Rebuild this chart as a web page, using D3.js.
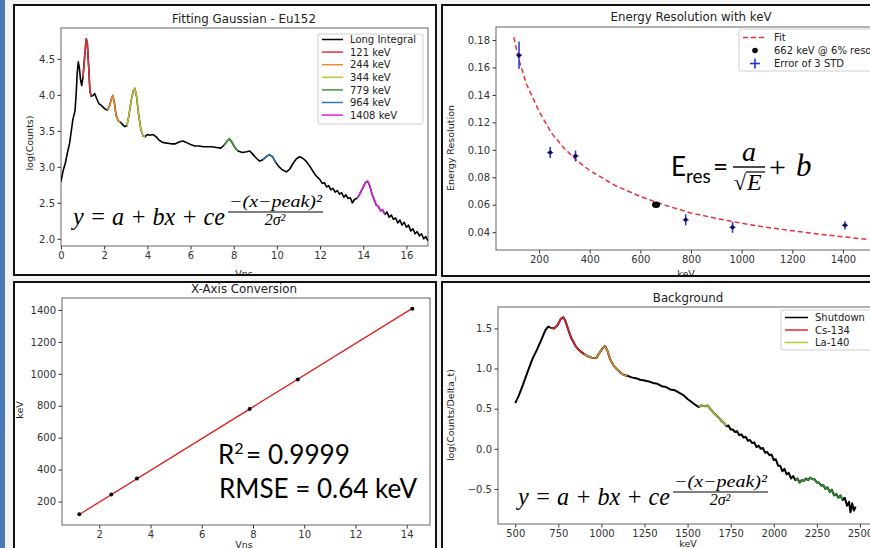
<!DOCTYPE html>
<html lang="en">
<head>
<meta charset="utf-8">
<style>
body { margin: 0; background: #f4f4f4; }
text { font-family: "DejaVu Sans", sans-serif; }
.axis text { font-size: 10px; fill: #333; font-family: "DejaVu Sans", sans-serif; }
.axis line { stroke: #333; }
.lbl { font-size: 9.5px; fill: #222; }
.ttl { font-size: 11.8px; fill: #222; }
.leg { font-size: 10px; fill: #222; }
.math { font-family: "Liberation Serif", "DejaVu Serif", serif; font-style: italic; fill: #000; }
.cal { font-family: Lato, "Open Sans", sans-serif; fill: #000; }
</style>
<title>Detector calibration</title>
<script src="https://cdn.jsdelivr.net/npm/d3@7"></script>
</head>
<body>
<script>

// ---- Fitting Gaussian - Eu152 : [Vns, log(counts)]
var eu152 = [[0,2.80],[0.1,2.95],[0.2,3.05],[0.3,3.20],[0.4,3.33],[0.5,3.55],[0.55,3.66],[0.6,3.72],[0.65,3.78],[0.7,4.00],
  [0.75,4.30],[0.8,4.46],[0.85,4.38],[0.9,4.22],[0.96,4.13],[1.02,4.25],[1.1,4.55],[1.17,4.78],[1.22,4.72],[1.28,4.40],
  [1.34,4.05],[1.4,3.98],[1.48,3.99],[1.56,4.02],[1.65,3.95],[1.75,3.88],[1.85,3.86],[1.95,3.83],[2.05,3.80],[2.15,3.79],
  [2.25,3.85],[2.35,3.96],[2.4,3.99],[2.47,3.90],[2.55,3.72],[2.65,3.64],[2.75,3.62],[2.85,3.59],[2.95,3.56],[3.05,3.57],
  [3.15,3.72],[3.25,3.92],[3.35,4.06],[3.42,4.09],[3.5,3.98],[3.6,3.72],[3.7,3.52],[3.8,3.43],[3.9,3.42],[4.0,3.45],
  [4.1,3.44],[4.25,3.45],[4.4,3.42],[4.55,3.37],[4.7,3.34],[4.9,3.33],[5.1,3.32],[5.3,3.32],[5.5,3.35],[5.65,3.36],
  [5.8,3.34],[6.0,3.31],[6.2,3.29],[6.4,3.29],[6.6,3.28],[6.8,3.28],[7.0,3.28],[7.2,3.27],[7.4,3.26],[7.55,3.30],
  [7.7,3.36],[7.8,3.39],[7.9,3.35],[8.05,3.27],[8.2,3.22],[8.4,3.20],[8.6,3.21],[8.75,3.22],[8.9,3.17],[9.05,3.12],
  [9.2,3.08],[9.35,3.10],[9.5,3.14],[9.65,3.17],[9.8,3.14],[9.95,3.06],[10.1,3.00],[10.25,2.96],[10.45,2.93],[10.6,2.97],
  [10.75,3.05],[10.9,3.11],[11.05,3.14],[11.2,3.12],[11.35,3.08],[11.5,3.02],[11.65,2.95],[11.8,2.88],[11.9,2.85],[12.0,2.82],
  [12.1,2.77],[12.2,2.78],[12.3,2.72],[12.4,2.74],[12.5,2.68],[12.6,2.70],[12.7,2.65],[12.8,2.67],[12.9,2.62],[13.0,2.64],
  [13.1,2.58],[13.2,2.61],[13.3,2.56],[13.4,2.57],[13.5,2.50],[13.6,2.55],[13.7,2.56],[13.8,2.60],[13.9,2.66],[14.0,2.72],
  [14.1,2.78],[14.2,2.80],[14.3,2.74],[14.4,2.63],[14.5,2.55],[14.6,2.47],[14.7,2.45],[14.8,2.39],[14.9,2.40],[15.0,2.34],
  [15.1,2.37],[15.2,2.30],[15.3,2.33],[15.4,2.27],[15.5,2.29],[15.6,2.22],[15.7,2.26],[15.8,2.19],[15.9,2.23],[16.0,2.16],
  [16.1,2.19],[16.2,2.11],[16.3,2.14],[16.4,2.07],[16.5,2.10],[16.6,2.04],[16.7,2.07],[16.8,2.00],[16.9,2.03],[17.0,1.97]];
var peakNames = ["121 keV", "244 keV", "344 keV", "779 keV", "964 keV", "1408 keV"];
var peakFrom = [1.0, 2.1, 3.0, 7.45, 9.3, 13.65];
var peakTo = [1.4, 2.75, 3.9, 8.2, 10.0, 15.0];
var peakColors = ["#e0303a", "#f08a2a", "#c2c232", "#3a9a3a", "#2b7bb9", "#e020e0"];

// ---- Energy resolution with keV
var resEnergy = [121, 244, 344, 779, 964, 1408];
var resValue = [0.169, 0.098, 0.0955, 0.049, 0.0435, 0.045];
var resError = [0.010, 0.004, 0.004, 0.004, 0.004, 0.003];
var csEnergy = [662], csRes = [0.060];
var fitEnergy = [100, 120, 150, 200, 250, 300, 350, 400, 500, 600, 700, 800, 900, 1000, 1100, 1200, 1300, 1400, 1500];
var fitRes = [0.182, 0.166, 0.148, 0.128, 0.112, 0.101, 0.092, 0.085, 0.074, 0.066, 0.0595, 0.054, 0.050, 0.0465, 0.0435, 0.041, 0.0387, 0.0366, 0.0347];

// ---- X-axis conversion
var convVns = [1.22, 2.47, 3.47, 7.87, 9.75, 14.22];
var convKeV = [121, 244, 344, 779, 964, 1408];
var convFitVns = [1.22, 14.22];
var convFitKeV = [119, 1410];

// ---- Background : [keV, log(counts/delta_t)]
var background = [[500,0.57],[520,0.66],[545,0.80],[570,0.95],[600,1.12],[625,1.23],[650,1.35],[675,1.48],[690,1.52],[705,1.51],
  [725,1.50],[745,1.54],[765,1.62],[778,1.64],[790,1.60],[805,1.50],[825,1.38],[850,1.28],[875,1.22],[900,1.18],
  [925,1.15],[950,1.13],[970,1.13],[990,1.20],[1010,1.26],[1022,1.28],[1035,1.22],[1050,1.12],[1070,1.04],[1090,0.99],
  [1110,0.95],[1130,0.92],[1150,0.91],[1175,0.89],[1200,0.88],[1225,0.86],[1250,0.85],[1275,0.84],[1300,0.82],[1325,0.81],
  [1350,0.78],[1375,0.77],[1400,0.74],[1425,0.73],[1450,0.70],[1475,0.67],[1500,0.62],[1525,0.58],[1550,0.54],[1565,0.52],
  [1580,0.54],[1600,0.53],[1615,0.54],[1630,0.50],[1650,0.45],[1675,0.40],[1700,0.34],[1712,0.32],[1725,0.28],[1737,0.29],
  [1750,0.24],[1762,0.24],[1775,0.21],[1787,0.22],[1800,0.17],[1812,0.18],[1825,0.14],[1837,0.15],[1850,0.10],[1862,0.11],
  [1875,0.07],[1887,0.08],[1900,0.02],[1912,0.04],[1925,0.00],[1937,0.01],[1950,-0.05],[1962,-0.04],[1975,-0.08],[1987,-0.07],
  [2000,-0.14],[2012,-0.13],[2025,-0.21],[2037,-0.21],[2050,-0.28],[2062,-0.25],[2075,-0.32],[2087,-0.30],[2100,-0.37],[2112,-0.34],
  [2125,-0.39],[2137,-0.37],[2150,-0.42],[2162,-0.39],[2175,-0.40],[2187,-0.37],[2200,-0.39],[2212,-0.36],[2225,-0.38],[2237,-0.38],
  [2250,-0.42],[2262,-0.42],[2275,-0.46],[2287,-0.45],[2300,-0.50],[2312,-0.48],[2325,-0.54],[2337,-0.51],[2350,-0.58],[2362,-0.56],
  [2375,-0.61],[2387,-0.58],[2400,-0.64],[2412,-0.61],[2425,-0.71],[2437,-0.66],[2445,-0.79],[2455,-0.68],[2465,-0.77],[2475,-0.72]];
var bkgFrom = [700, 900, 1560, 2125];
var bkgTo = [900, 1150, 1725, 2410];
var bkgColors = ["#e8202a", "#dc8a30", "#b8c030", "#2e8b2e"];
var bkgNames = ["Shutdown", "Cs-134", "La-140"];
var bkgLegendColors = ["#000", "#e8202a", "#c2c232"];

var W = 870, H = 548;
var svg = d3.select("body").append("svg").attr("width", W).attr("height", H).style("display", "block");
svg.append("rect").attr("width", W).attr("height", H).attr("fill", "#f4f4f4");
svg.append("rect").attr("width", 5).attr("height", H).attr("fill", "#4a7ab8");
var defs = svg.append("defs");

var clipN = 0;
function clip(x, y, w, h) {
	var id = "clip" + (clipN++);
	defs.append("clipPath").attr("id", id).append("rect")
		.attr("x", x).attr("y", y).attr("width", w).attr("height", h);
	return "url(#" + id + ")";
}

var frames = [];
function panel(x0, y0, x1, y1) {
	svg.append("rect").attr("x", x0).attr("y", y0).attr("width", x1 - x0).attr("height", y1 - y0).attr("fill", "#fff");
	frames.push([x0, y0, x1, y1]);
	return svg.append("g").attr("clip-path", clip(x0, y0, x1 - x0, y1 - y0));
}

function axes(g, box, xd, yd, xt, yt, xf, yf) {
	var x = d3.scaleLinear().domain(xd).range([box[0], box[2]]);
	var y = d3.scaleLinear().domain(yd).range([box[3], box[1]]);
	g.append("g").attr("class", "axis").attr("transform", "translate(0," + box[3] + ")")
		.call(d3.axisBottom(x).tickValues(xt).tickFormat(xf).tickSize(3.5).tickPadding(2.5));
	g.append("g").attr("class", "axis").attr("transform", "translate(" + box[0] + ",0)")
		.call(d3.axisLeft(y).tickValues(yt).tickFormat(yf).tickSize(3.5).tickPadding(2.5));
	g.selectAll(".axis .domain").remove();
	g.append("rect").attr("x", box[0]).attr("y", box[1])
		.attr("width", box[2] - box[0]).attr("height", box[3] - box[1])
		.attr("fill", "none").attr("stroke", "#555").attr("stroke-width", 0.9);
	var plot = g.append("g").attr("clip-path", clip(box[0], box[1], box[2] - box[0], box[3] - box[1]));
	return { x: x, y: y, plot: plot };
}

function labels(g, title, tx, ty, xlab, xx, xy, ylab, yx, yy) {
	g.append("text").attr("class", "ttl").attr("x", tx).attr("y", ty).attr("text-anchor", "middle").text(title);
	g.append("text").attr("class", "lbl").attr("x", xx).attr("y", xy).attr("text-anchor", "middle").text(xlab);
	g.append("text").attr("class", "lbl").attr("text-anchor", "middle")
		.attr("transform", "translate(" + yx + "," + yy + ") rotate(-90)").text(ylab);
}

function legendBox(g, x, y, w, h) {
	g.append("rect").attr("x", x).attr("y", y).attr("width", w).attr("height", h).attr("rx", 2)
		.attr("fill", "#fff").attr("fill-opacity", 0.85).attr("stroke", "#cfcfcf").attr("stroke-width", 1);
}

function gaussEq(g, x0, base) {
	g.append("text").attr("class", "math").attr("x", x0).attr("y", base)
		.attr("font-size", 26).attr("textLength", 152).attr("lengthAdjust", "spacingAndGlyphs")
		.text("y = a + bx + ce");
	g.append("text").attr("class", "math").attr("x", x0 + 156).attr("y", base - 18)
		.attr("font-size", 17).attr("textLength", 93).attr("lengthAdjust", "spacingAndGlyphs")
		.text("\u2212(x\u2212peak)\u00b2");
	g.append("line").attr("x1", x0 + 155).attr("x2", x0 + 250).attr("y1", base - 13).attr("y2", base - 13)
		.attr("stroke", "#000").attr("stroke-width", 1.2);
	g.append("text").attr("class", "math").attr("x", x0 + 202).attr("y", base)
		.attr("text-anchor", "middle").attr("font-size", 16).text("2\u03c3\u00b2");
}

var line = d3.line();

// ================= top left =================
var g1 = panel(14, 5, 436, 275);
var a1 = axes(g1, [61, 28, 428, 246], [0, 17], [1.90, 4.93],
	d3.range(0, 17, 2), [2.0, 2.5, 3.0, 3.5, 4.0, 4.5], d3.format("d"), d3.format(".1f"));
labels(g1, "Fitting Gaussian - Eu152", 244, 23, "Vns", 244, 277, "log(Counts)", 33, 143);
a1.plot.append("path")
	.attr("d", line(eu152.map(function(d) { return [a1.x(d[0]), a1.y(d[1])]; })))
	.attr("fill", "none").attr("stroke", "#000").attr("stroke-width", 1.6).attr("stroke-linejoin", "round");
peakNames.forEach(function(n, i) {
	var seg = eu152.filter(function(d) { return d[0] >= peakFrom[i] && d[0] <= peakTo[i]; });
	a1.plot.append("path")
		.attr("d", line(seg.map(function(d) { return [a1.x(d[0]), a1.y(d[1])]; })))
		.attr("fill", "none").attr("stroke", peakColors[i]).attr("stroke-width", 1.5);
});
legendBox(g1, 318, 34, 105, 90);
["Long Integral"].concat(peakNames).forEach(function(n, i) {
	var yy = 39.5 + i * 12.6;
	g1.append("line").attr("x1", 322).attr("x2", 343).attr("y1", yy).attr("y2", yy)
		.attr("stroke", i == 0 ? "#000" : peakColors[i - 1]).attr("stroke-width", 1.5);
	g1.append("text").attr("class", "leg").attr("x", 350).attr("y", yy + 3.6).text(n);
});
gaussEq(g1, 73, 225);

// ================= top right =================
var g2 = panel(442, 5, 880, 276);
var a2 = axes(g2, [496, 27, 886, 250], [30, 1570], [0.027, 0.1895],
	d3.range(200, 1401, 200), [0.04, 0.06, 0.08, 0.10, 0.12, 0.14, 0.16, 0.18], d3.format("d"), d3.format(".2f"));
labels(g2, "Energy Resolution with keV", 691, 21, "keV", 686, 277, "Energy Resolution", 454, 148);
a2.plot.append("path")
	.attr("d", line(fitEnergy.map(function(e, i) { return [a2.x(e), a2.y(fitRes[i])]; })))
	.attr("fill", "none").attr("stroke", "#e8303a").attr("stroke-width", 1.5).attr("stroke-dasharray", "5,3");
resEnergy.forEach(function(e, i) {
	var cx = a2.x(e);
	a2.plot.append("line").attr("x1", cx).attr("x2", cx)
		.attr("y1", a2.y(resValue[i] - resError[i])).attr("y2", a2.y(resValue[i] + resError[i]))
		.attr("stroke", "#2233dd").attr("stroke-width", 1.5);
	a2.plot.append("line").attr("x1", cx - 3).attr("x2", cx + 3)
		.attr("y1", a2.y(resValue[i])).attr("y2", a2.y(resValue[i]))
		.attr("stroke", "#2233dd").attr("stroke-width", 1.2);
	a2.plot.append("circle").attr("cx", cx).attr("cy", a2.y(resValue[i])).attr("r", 2)
		.attr("fill", "#101040");
});
csEnergy.forEach(function(e, i) {
	a2.plot.append("ellipse").attr("cx", a2.x(e)).attr("cy", a2.y(csRes[i])).attr("rx", 4).attr("ry", 3.2).attr("fill", "#000");
});
legendBox(g2, 739, 29, 160, 42);
g2.append("line").attr("x1", 743).attr("x2", 766).attr("y1", 37.5).attr("y2", 37.5)
	.attr("stroke", "#e8303a").attr("stroke-width", 1.5).attr("stroke-dasharray", "5,3");
g2.append("text").attr("class", "leg").attr("x", 774).attr("y", 41).text("Fit");
g2.append("circle").attr("cx", 755).attr("cy", 50.5).attr("r", 2.8).attr("fill", "#000");
g2.append("text").attr("class", "leg").attr("x", 774).attr("y", 54).text("662 keV @ 6% resolution");
g2.append("line").attr("x1", 750).attr("x2", 760).attr("y1", 63.5).attr("y2", 63.5).attr("stroke", "#2233dd").attr("stroke-width", 1.6);
g2.append("line").attr("x1", 755).attr("x2", 755).attr("y1", 58.5).attr("y2", 68.5).attr("stroke", "#2233dd").attr("stroke-width", 1.6);
g2.append("text").attr("class", "leg").attr("x", 774).attr("y", 67).text("Error of 3 STD");
// E_res = a / sqrt(E) + b
g2.append("text").attr("class", "cal").attr("x", 671).attr("y", 176).attr("font-size", 26)
	.text("E").append("tspan").attr("font-size", 19).attr("dy", 7).text("res");
g2.append("text").attr("class", "cal").attr("x", 713).attr("y", 176).attr("font-size", 26).text("=");
g2.append("text").attr("class", "math").attr("x", 749).attr("y", 161).attr("text-anchor", "middle").attr("font-size", 28).text("a");
g2.append("line").attr("x1", 733).attr("x2", 765).attr("y1", 167).attr("y2", 167).attr("stroke", "#000").attr("stroke-width", 1.4);
g2.append("text").attr("class", "math").attr("x", 734).attr("y", 190).attr("font-size", 22).style("font-style", "normal").text("\u221a");
g2.append("line").attr("x1", 746).attr("x2", 765).attr("y1", 172).attr("y2", 172).attr("stroke", "#000").attr("stroke-width", 1.2);
g2.append("text").attr("class", "math").attr("x", 747).attr("y", 190).attr("font-size", 24).text("E");
g2.append("text").attr("class", "math").attr("x", 769).attr("y", 177).attr("font-size", 30).style("font-style", "normal").text("+");
g2.append("text").attr("class", "math").attr("x", 796).attr("y", 176).attr("font-size", 31).text("b");

// ================= bottom left =================
var g3 = panel(14, 282, 436, 560);
var a3 = axes(g3, [62, 298, 430, 525], [0.545, 14.91], [53, 1475],
	d3.range(2, 15, 2), d3.range(200, 1401, 200), d3.format("d"), d3.format("d"));
labels(g3, "X-Axis Conversion", 244, 293, "Vns", 244, 548, "keV", 23, 410);
a3.plot.append("path")
	.attr("d", line(convFitVns.map(function(v, i) { return [a3.x(v), a3.y(convFitKeV[i])]; })))
	.attr("fill", "none").attr("stroke", "#e02020").attr("stroke-width", 1.3);
convVns.forEach(function(v, i) {
	a3.plot.append("circle").attr("cx", a3.x(v)).attr("cy", a3.y(convKeV[i])).attr("r", 2).attr("fill", "#000");
});
g3.append("text").attr("class", "cal").attr("x", 218).attr("y", 464).attr("font-size", 26)
	.text("R").append("tspan").attr("font-size", 16).attr("dy", -10).text("2");
g3.append("text").attr("class", "cal").attr("x", 246).attr("y", 464).attr("font-size", 26)
	.attr("textLength", 104).attr("lengthAdjust", "spacingAndGlyphs").text("= 0.9999");
g3.append("text").attr("class", "cal").attr("x", 219).attr("y", 498).attr("font-size", 26)
	.attr("textLength", 198).attr("lengthAdjust", "spacingAndGlyphs").text("RMSE = 0.64 keV");

// ================= bottom right =================
var g4 = panel(442, 282, 880, 560);
var a4 = axes(g4, [498, 307, 872, 524], [400, 2570], [-0.937, 1.767],
	d3.range(500, 2501, 250), [-0.5, 0, 0.5, 1.0, 1.5], d3.format("d"), d3.format(".1f"));
labels(g4, "Background", 688, 302, "keV", 688, 547, "log(Counts/Delta_t)", 454, 415);
a4.plot.append("path")
	.attr("d", line(background.map(function(d) { return [a4.x(d[0]), a4.y(d[1])]; })))
	.attr("fill", "none").attr("stroke", "#000").attr("stroke-width", 2).attr("stroke-linejoin", "round");
bkgFrom.forEach(function(f, i) {
	var seg = background.filter(function(d) { return d[0] >= f && d[0] <= bkgTo[i]; });
	a4.plot.append("path")
		.attr("d", line(seg.map(function(d) { return [a4.x(d[0]), a4.y(d[1])]; })))
		.attr("fill", "none").attr("stroke", bkgColors[i]).attr("stroke-width", 1.5);
});
legendBox(g4, 781, 310, 110, 40);
bkgNames.forEach(function(n, i) {
	var yy = 317.5 + i * 12.5;
	g4.append("line").attr("x1", 785).attr("x2", 808).attr("y1", yy).attr("y2", yy)
		.attr("stroke", bkgLegendColors[i]).attr("stroke-width", 1.5);
	g4.append("text").attr("class", "leg").attr("x", 815).attr("y", yy + 3.6).text(n);
});
gaussEq(g4, 518, 505);

// panel frames on top
frames.forEach(function(f) {
	svg.append("rect").attr("x", f[0]).attr("y", f[1]).attr("width", f[2] - f[0]).attr("height", f[3] - f[1])
		.attr("fill", "none").attr("stroke", "#111").attr("stroke-width", 2);
});

</script>
</body>
</html>
